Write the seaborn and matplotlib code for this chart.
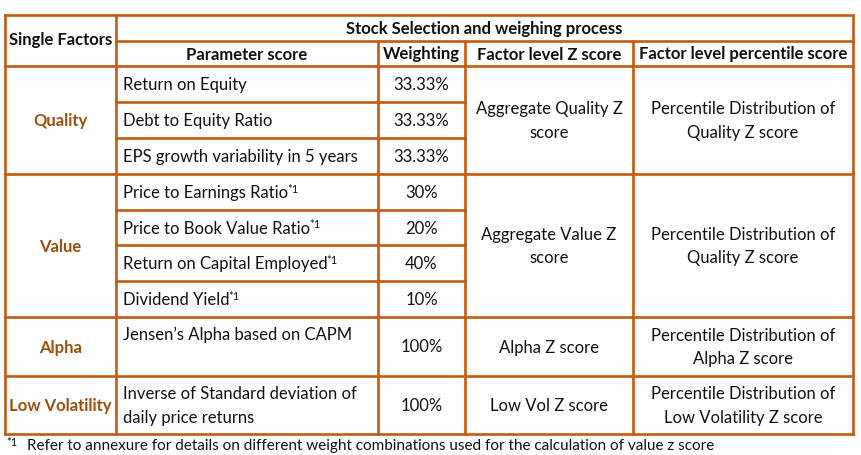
import matplotlib.pyplot as plt
import seaborn as sns

# table content
factors = ["Quality", "Value", "Alpha", "Low Volatility"]
parameters = [
    ["Return on Equity", "Debt to Equity Ratio", "EPS growth variability in 5 years"],
    ["Price to Earnings Ratio", "Price to Book Value Ratio",
     "Return on Capital Employed", "Dividend Yield"],
    ["Jensen\u2019s Alpha based on CAPM"],
    ["Inverse of Standard deviation of\ndaily price returns"],
]
footnoted = [[False, False, False], [True, True, True, True], [False], [False]]
weights = [["33.33%", "33.33%", "33.33%"], ["30%", "20%", "40%", "10%"], ["100%"], ["100%"]]
z_scores = ["Aggregate Quality Z\nscore", "Aggregate Value Z\nscore", "Alpha Z score", "Low Vol Z score"]
percentiles = [
    "Percentile Distribution of\nQuality Z score",
    "Percentile Distribution of\nQuality Z score",
    "Percentile Distribution of\nAlpha Z score",
    "Percentile Distribution of\nLow Volatility Z score",
]
title = "Stock Selection and weighing process"
col_headers = ["Parameter score", "Weighting", "Factor level Z score", "Factor level percentile score"]
footnote = "Refer to annexure for details on different weight combinations used for the calculation of value z score"

# layout (pixels)
col_x = [5, 116, 378, 465, 633, 853]
head_y = [15, 41, 66]
row_h = [[36, 36, 36], [36, 35, 36, 36], [59], [58]]

sns.set_theme(style="white")
plt.rcParams["font.family"] = ["Lato", "DejaVu Sans"]

BORDER = "#C55A11"
FACTOR = "#9E4F0E"
INK = "#111111"
FS = 12
LS = 1.6
LW = 1.9

fig = plt.figure(figsize=(8.61, 4.55), dpi=100)
ax = fig.add_axes([0, 0, 1, 1])
ax.set_xlim(0, 861)
ax.set_ylim(455, 0)
ax.axis("off")


def hline(y, x0, x1):
    ax.plot([x0, x1], [y, y], color=BORDER, lw=LW, solid_capstyle="projecting")


def vline(x, y0, y1):
    ax.plot([x, x], [y0, y1], color=BORDER, lw=LW, solid_capstyle="projecting")


def cx(i):
    return (col_x[i] + col_x[i + 1]) / 2


# header
hline(head_y[0], col_x[0], col_x[-1])
hline(head_y[1], col_x[1], col_x[-1])
hline(head_y[2], col_x[0], col_x[-1])
ax.text(cx(0), (head_y[0] + head_y[2]) / 2, "Single Factors", ha="center", va="center",
        fontsize=FS, fontweight="bold", color=INK)
ax.text((col_x[1] + col_x[-1]) / 2, (head_y[0] + head_y[1]) / 2 + 1, title, ha="center",
        va="center", fontsize=FS, fontweight="bold", color=INK)
for i, h in enumerate(col_headers):
    ax.text(cx(i + 1), (head_y[1] + head_y[2]) / 2 + 1, h, ha="center", va="center",
            fontsize=FS, fontweight="bold", color=INK)

sup_targets = []
y = head_y[2]
for g, fac in enumerate(factors):
    y0 = y
    ys = []
    for k, h in enumerate(row_h[g]):
        ys.append((y, y + h))
        y += h
    ymid = (y0 + y) / 2 + 1
    ax.text(cx(0), ymid, fac, ha="center", va="center", fontsize=FS,
            fontweight="bold", color=FACTOR)
    for k, (a, b) in enumerate(ys):
        if k > 0:
            hline(a, col_x[1], col_x[3])
        p = parameters[g][k]
        if "\n" in p:
            t = ax.text(col_x[1] + 7, (a + b) / 2 + 1, p, ha="left", va="center",
                        fontsize=FS, color=INK, linespacing=LS)
        elif b - a > 45:
            t = ax.text(col_x[1] + 7, a + 18, p, ha="left", va="center",
                        fontsize=FS, color=INK)
        else:
            t = ax.text(col_x[1] + 7, (a + b) / 2 + 1, p, ha="left", va="center",
                        fontsize=FS, color=INK)
        if footnoted[g][k]:
            sup_targets.append(t)
        ax.text(cx(2), (a + b) / 2 + 1, weights[g][k], ha="center", va="center",
                fontsize=FS, color=INK)
    ax.text(cx(3), ymid, z_scores[g], ha="center", va="center", fontsize=FS,
            color=INK, linespacing=LS)
    ax.text(cx(4), ymid, percentiles[g], ha="center", va="center", fontsize=FS,
            color=INK, linespacing=LS)
    hline(y, col_x[0], col_x[-1])

bottom = y
vline(col_x[0], head_y[0], bottom)
vline(col_x[-1], head_y[0], bottom)
vline(col_x[1], head_y[0], bottom)
for x in col_x[2:-1]:
    vline(x, head_y[1], bottom)

# superscripts after footnoted parameters
fig.canvas.draw()
r = fig.canvas.get_renderer()
inv = ax.transData.inverted()
for t in sup_targets:
    bb = t.get_window_extent(r)
    x1, ytop = inv.transform((bb.x1, bb.y1))
    ax.text(x1 - 1, ytop - 1, "*1", ha="left", va="top", fontsize=8, color=INK)

# footnote
fy = bottom + 12
ax.text(col_x[0] + 1, fy - 3, "*1", ha="left", va="center", fontsize=8, color=INK)
ax.text(col_x[0] + 22, fy, footnote, ha="left", va="center", fontsize=11, color=INK)

fig.savefig("out.png", dpi=100)
